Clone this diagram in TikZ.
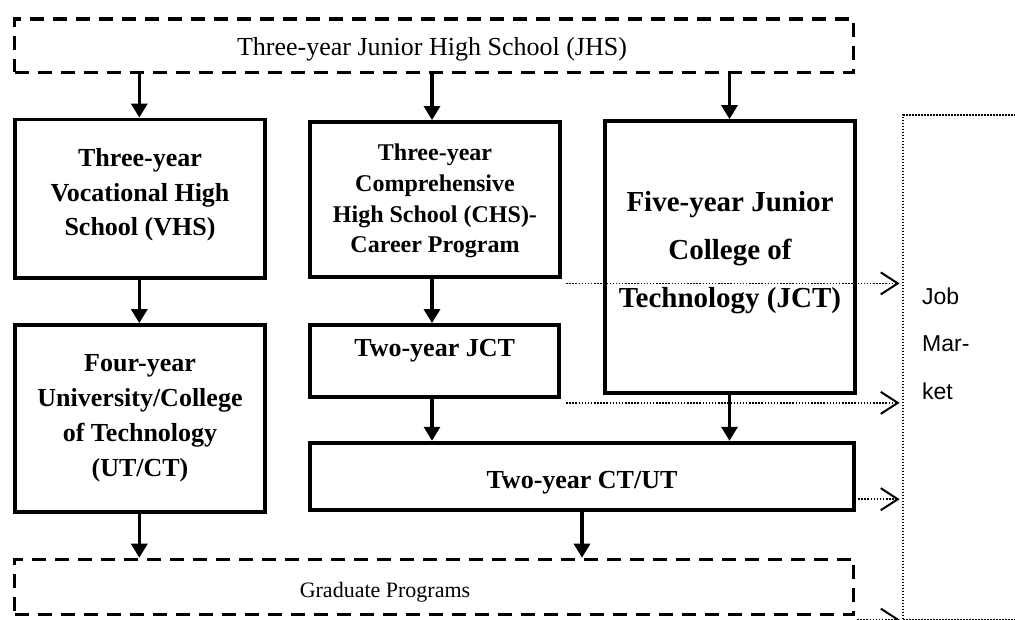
\documentclass[tikz,border=0pt]{standalone}
\usepackage{fontspec}
\setmainfont{Liberation Serif}
\newfontfamily\arialfont{Liberation Sans}
\usetikzlibrary{arrows.meta}
\begin{document}
\begin{tikzpicture}[x=1pt,y=-1pt,
  box/.style={draw, line width=3.8pt, inner sep=0pt},
  dbox/.style={draw, line width=3.2pt, dash pattern=on 14pt off 9pt, inner sep=0pt},
  btxt/.style={align=center, inner sep=0pt, font=\fontsize{26}{34.5}\selectfont\bfseries},
  flow/.style={line width=3.2pt, -{Triangle[width=16pt,length=14pt]}},
  jobarrow/.style={line width=1.6pt, dash pattern=on 1.5pt off 1.6pt, -{Straight Barb[length=17pt,width=22pt,line width=2pt]}, shorten >=2.5pt},
]
\useasboundingbox (0,0) rectangle (1015,619);
\clip (0,0) rectangle (1015,619);
% boxes
\node[dbox, minimum width=839.1pt, minimum height=53.3pt] (jhs) at (434.25,45.65) {};
\node[box, minimum width=249.4pt, minimum height=158.5pt] (vhs) at (140,198.75) {};
\node[box, minimum width=249.7pt, minimum height=155pt] (chs) at (435.15,199.5) {};
\node[box, minimum width=249.4pt, minimum height=272.3pt] (jct5) at (730,257.15) {};
\node[box, minimum width=249.4pt, minimum height=187.3pt] (four) at (140,418.65) {};
\node[box, minimum width=248.7pt, minimum height=71.7pt] (jct2) at (434.65,360.85) {};
\node[box, minimum width=543.4pt, minimum height=67.6pt] (ctut) at (582,476.5) {};
\node[dbox, minimum width=839.1pt, minimum height=55pt] (grad) at (434.25,586.8) {};
\node[draw, line width=1.8pt, dash pattern=on 1.5pt off 1.5pt, inner sep=0pt, minimum width=137pt, minimum height=504.5pt] (job) at (971.5,367.25) {};
% texts
\node[anchor=base, inner sep=0pt, font=\fontsize{26}{30}\selectfont] (jhst) at (432,55) {Three-year Junior High School (JHS)};
\node[btxt] (vhst) at (140,195) {Three-year\\Vocational High\\School (VHS)};
\node[btxt, font=\fontsize{24}{30.7}\selectfont\bfseries] (chst) at (435,201) {Three-year\\Comprehensive\\High School (CHS)-\\Career Program};
\node[btxt, font=\fontsize{29}{48}\selectfont\bfseries] (jct5t) at (730,253) {Five-year Junior\\College of\\Technology (JCT)};
\node[btxt, font=\fontsize{26}{35}\selectfont\bfseries] (fourt) at (140,418.4) {Four-year\\University/College\\of Technology\\(UT/CT)};
\node[btxt, anchor=base] (jct2t) at (434.65,356) {Two-year JCT};
\node[btxt, anchor=base] (ctutt) at (582,488.3) {Two-year CT/UT};
\node[anchor=base, inner sep=0pt, font=\fontsize{22}{26}\selectfont] (gradt) at (385,597) {Graduate Programs};
\node[align=left, inner sep=0pt, anchor=west, font=\arialfont\fontsize{23}{47.5}\selectfont] (jobt) at (922,343.4) {Job\\Mar-\\ket};
% x positions of the flow arrows
\coordinate (xa) at (139.3,0);
\coordinate (xb) at (432,0);
\coordinate (xc) at (729.5,0);
\coordinate (xd) at (582,0);
\draw[flow] (jhs.south -| xa) -- (vhs.north -| xa);
\draw[flow] (jhs.south -| xb) -- (chs.north -| xb);
\draw[flow] (jhs.south -| xc) -- (jct5.north -| xc);
\draw[flow] (vhs.south -| xa) -- (four.north -| xa);
\draw[flow] (chs.south -| xb) -- (jct2.north -| xb);
\draw[flow] (jct2.south -| xb) -- (ctut.north -| xb);
\draw[flow] (jct5.south -| xc) -- (ctut.north -| xc);
\draw[flow] (four.south -| xa) -- (grad.north -| xa);
\draw[flow] (ctut.south -| xd) -- (grad.north -| xd);
% dotted arrows to the job market
\coordinate (d1) at ([xshift=4.25pt,yshift=-4.5pt]chs.south east);
\coordinate (d2) at ([xshift=5.25pt,yshift=-4.25pt]jct2.south east);
\coordinate (d3) at ([xshift=2.5pt,yshift=13pt]ctut.south east);
\coordinate (d4) at ([xshift=1.7pt,yshift=-3.7pt]grad.south east);
\draw[jobarrow] (d1) -- (d1 -| job.west);
\draw[jobarrow] (d2) -- (d2 -| job.west);
\draw[jobarrow] (d3) -- (d3 -| job.west);
\draw[jobarrow] (d4) -- (d4 -| job.west);
\end{tikzpicture}
\end{document}
